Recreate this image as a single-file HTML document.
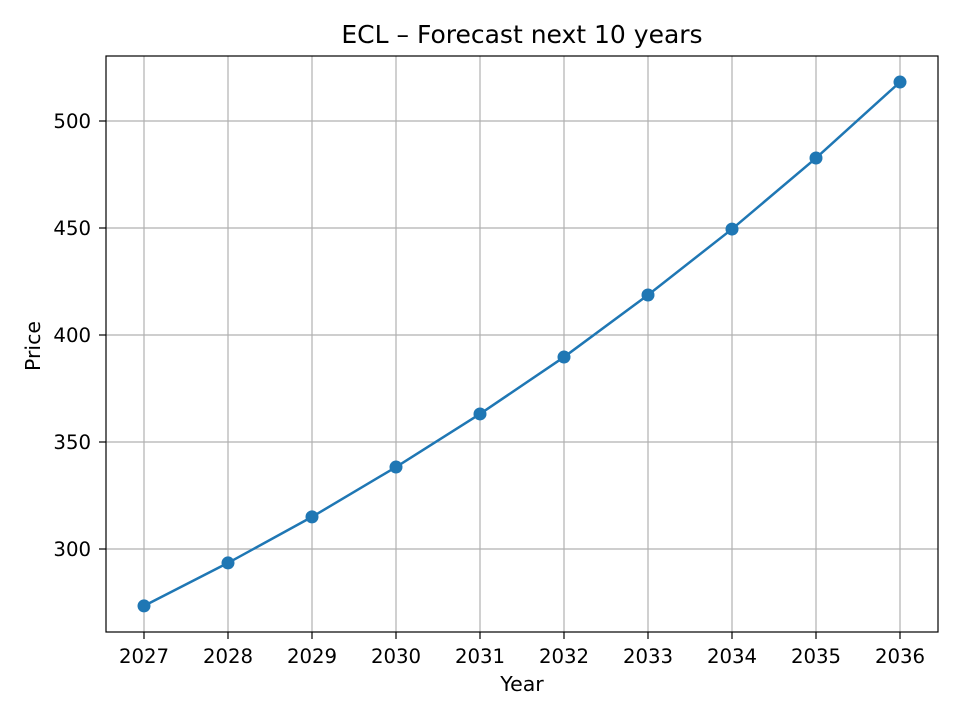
<!DOCTYPE html>
<html><head><meta charset="utf-8"><style>
body{margin:0;background:#fff;font-family:"Liberation Sans","DejaVu Sans",sans-serif}
svg text{font-family:"DejaVu Sans","Liberation Sans",sans-serif;fill:#000}
</style></head><body>
<svg id="chart" width="960" height="720" xmlns="http://www.w3.org/2000/svg">
<rect width="960" height="720" fill="#fff"/>
<g id="grid"></g>
<g id="marks"></g>
<rect x="106" y="56" width="832" height="576" fill="none" stroke="#000" stroke-width="1.2"/>
<g id="xt"></g>
<g id="yt"></g>
<text x="522" y="43" font-size="25" text-anchor="middle">ECL – Forecast next 10 years</text>
<text x="522" y="691" font-size="20.5" text-anchor="middle">Year</text>
<text x="40" y="346" font-size="20.5" text-anchor="middle" transform="rotate(-90 40 346)">Price</text>
</svg>
<script>
const years=[2027,2028,2029,2030,2031,2032,2033,2034,2035,2036];
const prices=[273.4,293.5,315,338.3,363.1,389.7,418.7,449.5,482.7,518.2];
const yTicks=[300,350,400,450,500];
const NS="http://www.w3.org/2000/svg";
const X=v=>144+(v-2027)*84;
const Y=v=>549-(v-300)*2.14;
function mk(t,a,p){const e=document.createElementNS(NS,t);for(const k in a)e.setAttribute(k,a[k]);p.appendChild(e);return e;}
const g=document.getElementById('grid'),xt=document.getElementById('xt'),yt=document.getElementById('yt'),m=document.getElementById('marks');
years.forEach(y=>{
 const l=mk('line',{x1:X(y),x2:X(y),y1:56,y2:632,stroke:'#b0b0b0','stroke-width':1.2},g);
 
 
 mk('line',{x1:X(y),x2:X(y),y1:632,y2:639,stroke:'#000','stroke-width':1.2},xt);
 const t=mk('text',{x:X(y),y:663,'font-size':19.7,'text-anchor':'middle'},xt);t.textContent=y;
 
 
});
yTicks.forEach(v=>{
 const l=mk('line',{x1:106,x2:938,y1:Y(v),y2:Y(v),stroke:'#b0b0b0','stroke-width':1.2},g);
 
 
 mk('line',{x1:99,x2:106,y1:Y(v),y2:Y(v),stroke:'#000','stroke-width':1.2},yt);
 const t=mk('text',{x:91,y:Y(v)+7,'font-size':19.7,'text-anchor':'end'},yt);t.textContent=v;
 
 
});
const pl=mk('polyline',{points:years.map((y,i)=>X(y)+','+Y(prices[i])).join(' '),fill:'none',stroke:'#1f77b4','stroke-width':2.5},m);


years.forEach((y,i)=>{
 const c=mk('circle',{cx:X(y),cy:Y(prices[i]),r:6.5,fill:'#1f77b4'},m);
 
 
});
</script>
</body></html>
